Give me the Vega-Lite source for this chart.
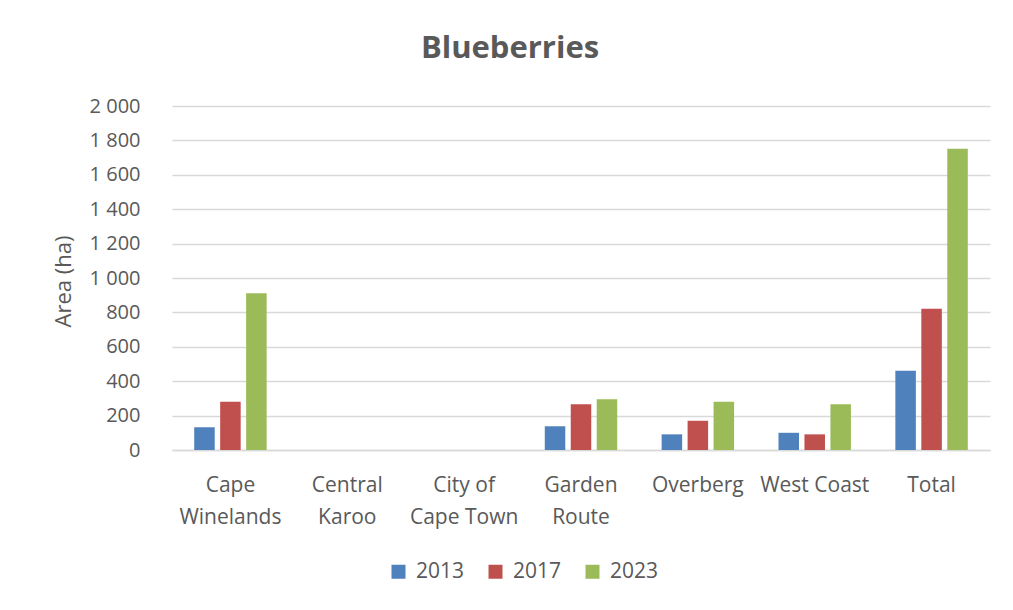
{
  "$schema": "https://vega.github.io/schema/vega-lite/v6.json",
  "width": 818,
  "height": 344,
  "autosize": {"type": "none"},
  "padding": {"left": 172, "top": 106, "right": 23, "bottom": 160},
  "background": "white",
  "title": {
    "text": "Blueberries",
    "font": "Open Sans",
    "fontSize": 31,
    "fontWeight": "bold",
    "color": "#595959",
    "anchor": "middle",
    "dx": -71,
    "offset": 31
  },
  "data": {
    "values": [
      {"region": "Cape Winelands", "year": "2013", "area": 132},
      {"region": "Cape Winelands", "year": "2017", "area": 281},
      {"region": "Cape Winelands", "year": "2023", "area": 911},
      {"region": "Central Karoo", "year": "2013", "area": 0},
      {"region": "Central Karoo", "year": "2017", "area": 0},
      {"region": "Central Karoo", "year": "2023", "area": 0},
      {"region": "City of Cape Town", "year": "2013", "area": 0},
      {"region": "City of Cape Town", "year": "2017", "area": 0},
      {"region": "City of Cape Town", "year": "2023", "area": 0},
      {"region": "Garden Route", "year": "2013", "area": 138},
      {"region": "Garden Route", "year": "2017", "area": 266},
      {"region": "Garden Route", "year": "2023", "area": 295},
      {"region": "Overberg", "year": "2013", "area": 91},
      {"region": "Overberg", "year": "2017", "area": 170},
      {"region": "Overberg", "year": "2023", "area": 281},
      {"region": "West Coast", "year": "2013", "area": 100},
      {"region": "West Coast", "year": "2017", "area": 91},
      {"region": "West Coast", "year": "2023", "area": 266},
      {"region": "Total", "year": "2013", "area": 461},
      {"region": "Total", "year": "2017", "area": 821},
      {"region": "Total", "year": "2023", "area": 1751}
    ]
  },
  "mark": {"type": "bar"},
  "encoding": {
    "x": {
      "field": "region",
      "type": "nominal",
      "sort": null,
      "scale": {"paddingInner": 0.38, "paddingOuter": 0.19},
      "axis": {
        "title": null,
        "labelAngle": 0,
        "labelFont": "Open Sans",
        "labelFontSize": 21,
        "labelColor": "#595959",
        "labelLineHeight": 32,
        "labelPadding": 35,
        "labelBaseline": "middle",
        "ticks": false,
        "domain": true,
        "domainColor": "#d9d9d9",
        "domainWidth": 1.5,
        "labelExpr": "datum.value == 'City of Cape Town' ? ['City of', 'Cape Town'] : (datum.value == 'West Coast' || datum.value == 'Overberg' || datum.value == 'Total') ? datum.value : split(datum.value, ' ')"
      }
    },
    "xOffset": {
      "field": "year",
      "type": "nominal",
      "scale": {"paddingInner": 0.21, "paddingOuter": 0}
    },
    "y": {
      "field": "area",
      "type": "quantitative",
      "scale": {"domain": [0, 2000]},
      "axis": {
        "title": "Area (ha)",
        "titleFont": "Open Sans",
        "titleFontSize": 22,
        "titleFontWeight": "normal",
        "titleColor": "#595959",
        "titleX": -109,
        "titleY": 175,
        "titleAngle": 270,
        "titleAlign": "center",
        "titleBaseline": "middle",
        "values": [0, 200, 400, 600, 800, 1000, 1200, 1400, 1600, 1800, 2000],
        "labelExpr": "replace(format(datum.value, ','), ',', ' ')",
        "labelFont": "Open Sans",
        "labelFontSize": 20,
        "labelColor": "#595959",
        "labelPadding": 32,
        "ticks": false,
        "domain": false,
        "grid": true,
        "gridColor": "#d9d9d9",
        "gridWidth": 1.5
      }
    },
    "color": {
      "field": "year",
      "type": "nominal",
      "scale": {"domain": ["2013", "2017", "2023"], "range": ["#4f81bd", "#c0504d", "#9bbb59"]},
      "legend": {
        "title": null,
        "orient": "none",
        "direction": "horizontal",
        "legendX": 216,
        "legendY": 455,
        "symbolType": "square",
        "symbolSize": 196,
        "symbolStrokeWidth": 0,
        "labelFont": "Open Sans",
        "labelFontSize": 21,
        "labelColor": "#595959",
        "labelOffset": 7,
        "columnPadding": 20
      }
    }
  },
  "config": {
    "view": {"stroke": null}
  }
}
